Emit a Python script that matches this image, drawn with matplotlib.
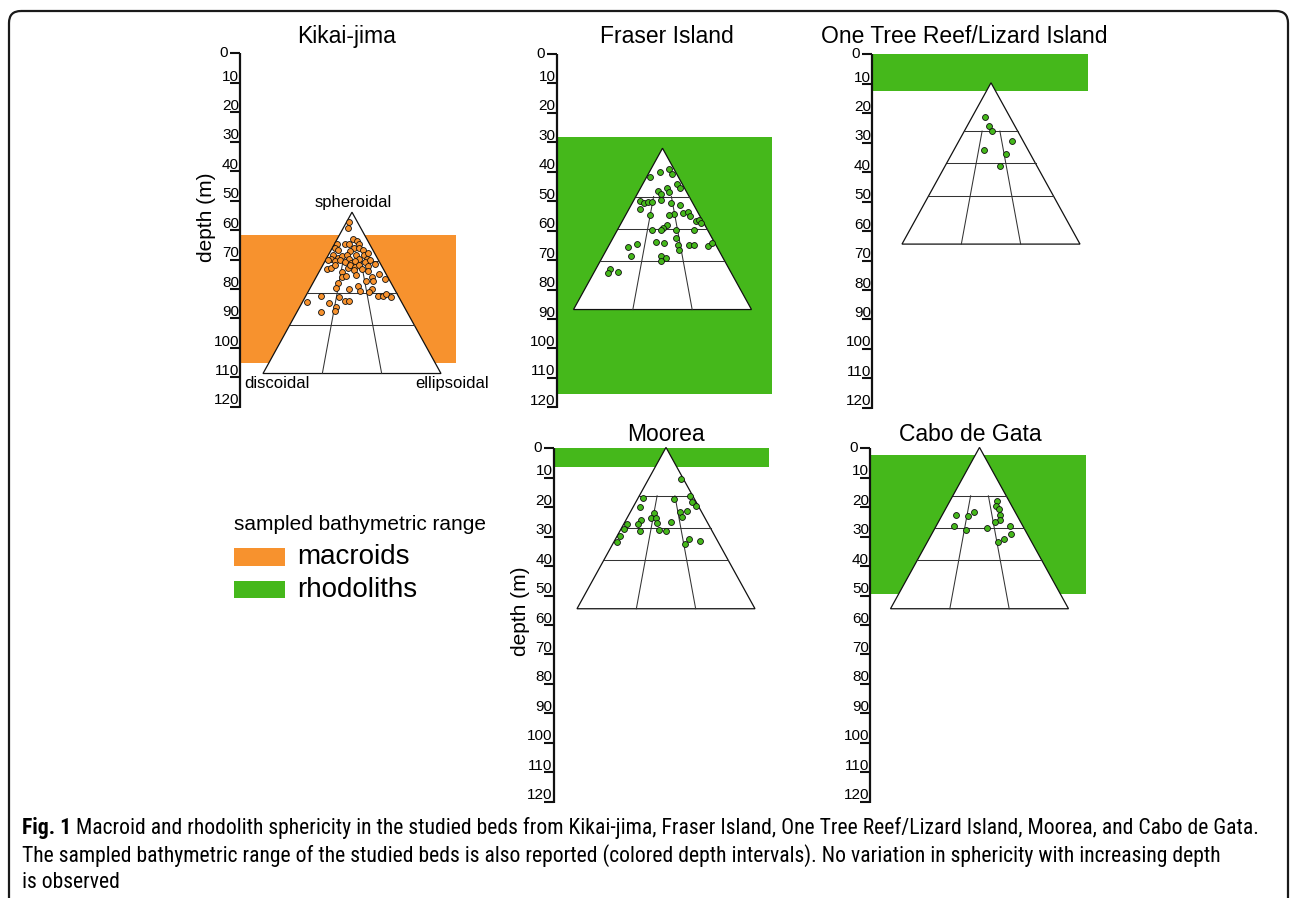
import matplotlib
matplotlib.use("Agg")
import matplotlib.pyplot as plt
from matplotlib.patches import Polygon, Rectangle, FancyBboxPatch
from matplotlib import font_manager

plt.rcParams['font.family'] = ['Liberation Sans', 'DejaVu Sans']

W, H = 1290, 898
PX_PER_M = 2.944  # vertical scale of every depth bar

#============
# Data
#============
depth_ticks = list(range(0, 121, 10))

sites = ["Kikai-jima", "Fraser Island", "One Tree Reef/Lizard Island", "Moorea", "Cabo de Gata"]
bed_type = ["macroids", "rhodoliths", "rhodoliths", "rhodoliths", "rhodoliths"]
range_top = [61.5, 28.3, 0.0, 0.0, 2.3]       # m
range_bottom = [105.2, 115.6, 12.4, 6.2, 49.6]  # m

# Sneed & Folk grid: horizontal lines (fraction of height from apex) and
# radial lines (fraction of base width)
sf_levels = [0.3, 0.5, 0.7]
sf_ratios = [1 / 3, 2 / 3]

# sample positions inside the triangle:
# across = offset from the apex in base widths, down = fraction of height from apex
kikai_across = [-0.015, -0.023, 0.004, 0.028, -0.038, -0.019, 0.037, -0.085, -0.094, -0.079,
                0.009, 0.037, 0.062, -0.010, -0.107, -0.119, -0.081, -0.056, -0.028, -0.019,
                0.023, 0.037, 0.066, 0.085, 0.090, -0.136, -0.094, -0.066, -0.038, -0.004,
                0.019, 0.075, 0.103, -0.141, -0.117, -0.098, -0.023, -0.010, 0.015, 0.037,
                0.056, 0.090, 0.128, -0.056, 0.009, 0.023, 0.090, 0.113, 0.150, 0.188,
                -0.056, -0.034, -0.079, 0.077, 0.116, 0.034, -0.089, -0.019, 0.047, 0.113,
                0.094, 0.147, 0.173, 0.192, 0.220, -0.072, -0.042, -0.019, -0.254, -0.132,
                -0.089, -0.094, -0.173, -0.173]
kikai_down = [0.063, 0.100, 0.167, 0.179, 0.198, 0.198, 0.198, 0.200, 0.225, 0.236,
              0.221, 0.221, 0.236, 0.242, 0.263, 0.288, 0.284, 0.271, 0.267, 0.288,
              0.267, 0.288, 0.263, 0.288, 0.250, 0.298, 0.304, 0.298, 0.309, 0.313,
              0.304, 0.309, 0.298, 0.354, 0.346, 0.325, 0.346, 0.329, 0.340, 0.329,
              0.354, 0.334, 0.321, 0.371, 0.361, 0.388, 0.367, 0.402, 0.381, 0.413,
              0.402, 0.396, 0.438, 0.429, 0.429, 0.459, 0.471, 0.475, 0.486, 0.475,
              0.496, 0.521, 0.517, 0.506, 0.528, 0.528, 0.548, 0.553, 0.554, 0.563,
              0.590, 0.611, 0.617, 0.517]

fraser_across = [-0.071, -0.015, 0.038, 0.053, -0.024, -0.011, 0.023, 0.036, -0.006, 0.084,
                 0.098, -0.124, -0.105, -0.084, -0.060, -0.128, -0.068, 0.047, 0.099, 0.064,
                 0.038, 0.116, 0.144, 0.154, 0.188, 0.203, 0.214, 0.026, 0.004, -0.008,
                 -0.060, 0.075, 0.176, 0.075, 0.088, 0.094, -0.038, 0.009, 0.150, 0.176,
                 0.257, 0.276, -0.146, -0.195, -0.178, -0.008, 0.019, -0.006, -0.293, -0.306,
                 -0.248]
fraser_down = [0.179, 0.150, 0.129, 0.160, 0.263, 0.283, 0.248, 0.273, 0.318, 0.220,
               0.246, 0.329, 0.339, 0.335, 0.335, 0.376, 0.415, 0.339, 0.349, 0.405,
               0.417, 0.400, 0.394, 0.421, 0.452, 0.446, 0.466, 0.478, 0.495, 0.507,
               0.507, 0.507, 0.507, 0.554, 0.602, 0.632, 0.581, 0.585, 0.602, 0.598,
               0.606, 0.585, 0.591, 0.610, 0.671, 0.671, 0.682, 0.700, 0.749, 0.774,
               0.766]

onetree_across = [-0.036, -0.009, 0.004, 0.116, -0.041, 0.082, 0.051]
onetree_down = [0.214, 0.268, 0.297, 0.361, 0.416, 0.443, 0.515]

moorea_across = [0.082, -0.131, 0.045, 0.137, 0.144, 0.167, -0.148, 0.079, 0.116, 0.088,
                 -0.067, -0.086, -0.058, -0.049, -0.139, -0.157, 0.028, -0.221, -0.236, -0.144,
                 -0.041, -0.002, -0.258, -0.277, 0.131, 0.191, 0.105]
moorea_down = [0.194, 0.313, 0.320, 0.299, 0.336, 0.361, 0.369, 0.398, 0.392, 0.433,
               0.404, 0.437, 0.439, 0.470, 0.447, 0.474, 0.460, 0.472, 0.505, 0.515,
               0.509, 0.518, 0.546, 0.588, 0.565, 0.581, 0.600]

cabo_across = [0.099, 0.092, 0.112, 0.116, 0.116, 0.086, -0.032, -0.062, -0.131, -0.146,
               -0.078, 0.041, 0.174, 0.176, 0.135, 0.103]
cabo_down = [0.334, 0.361, 0.381, 0.419, 0.452, 0.464, 0.400, 0.423, 0.421, 0.489,
             0.509, 0.501, 0.485, 0.536, 0.569, 0.584]

samples_across = [kikai_across, fraser_across, onetree_across, moorea_across, cabo_across]
samples_down = [kikai_down, fraser_down, onetree_down, moorea_down, cabo_down]

legend_title = "sampled bathymetric range"
legend_labels = ["macroids", "rhodoliths"]
colors = {"macroids": "#f7922e", "rhodoliths": "#45b81b"}

caption_bold = "Fig. 1"
caption_lines = [
    "Macroid and rhodolith sphericity in the studied beds from Kikai-jima, Fraser Island, One Tree Reef/Lizard Island, Moorea, and Cabo de Gata.",
    "The sampled bathymetric range of the studied beds is also reported (colored depth intervals). No variation in sphericity with increasing depth",
    "is observed",
]

#============
# Layout (pixels)
#============
axis_x = [240, 556.5, 872, 553.5, 870]
zero_y = [53.5, 54, 54.5, 448.3, 448.3]
title_x = [346.7, 666.7, 964.3, 666.2, 970.3]
title_y = [36.5, 36.5, 36.5, 434.3, 434.3]
tri_cx = [112, 106, 119, 112.5, 109.5]        # px right of the depth bar
tri_apex = [53.9, 32.0, 9.6, -0.3, -0.3]      # m
TRI_W = 178          # px
TRI_H = 54.8         # m
BAND_W = 215         # px
show_ylabel = [True, False, False, True, False]

fig = plt.figure(figsize=(W / 100, H / 100), dpi=100)

# full-figure overlay in pixel units for frame, legend and caption
ov = fig.add_axes([0, 0, 1, 1])
ov.set_xlim(0, W)
ov.set_ylim(H, 0)
ov.axis('off')
ov.add_patch(FancyBboxPatch((9, 11), 1279, 960, boxstyle="round,pad=0,rounding_size=12",
                            fc='none', ec='#1a1a1a', lw=1.6))


def panel_axes(ax_x, y0):
    x_lo, x_hi = -55, 262
    d_lo, d_hi = -12, 126
    top_px = y0 + d_lo * PX_PER_M
    bot_px = y0 + d_hi * PX_PER_M
    ax = fig.add_axes([(ax_x + x_lo) / W, 1 - bot_px / H, (x_hi - x_lo) / W, (bot_px - top_px) / H])
    ax.set_xlim(x_lo, x_hi)
    ax.set_ylim(d_hi, d_lo)
    ax.axis('off')
    ax.patch.set_alpha(0)
    return ax


for i, site in enumerate(sites):
    ax = panel_axes(axis_x[i], zero_y[i])
    col = colors[bed_type[i]]

    # sampled bathymetric range
    ax.add_patch(Rectangle((0.5, range_top[i]), BAND_W, range_bottom[i] - range_top[i],
                           fc=col, ec='none', zorder=1))

    # depth bar
    ax.plot([0, 0], [0, 120.4], color='#111', lw=1.6, solid_capstyle='butt', zorder=6)
    for d in depth_ticks:
        ax.plot([-10, 0], [d, d], color='#111', lw=1.5, solid_capstyle='butt', zorder=6)
        if d == 0:
            ax.text(-12, d, str(d), ha='right', va='center', fontsize=11, zorder=6)
        else:
            ax.text(-1, d - 2.4 / PX_PER_M, str(d), ha='right', va='baseline', fontsize=11,
                    zorder=6)

    # Sneed & Folk triangle
    cx, a = tri_cx[i], tri_apex[i]
    half = TRI_W / 2
    ax.add_patch(Polygon([(cx, a), (cx - half, a + TRI_H), (cx + half, a + TRI_H)],
                         closed=True, fc='white', ec='#111', lw=0.9, zorder=2))
    for v in sf_levels:
        ax.plot([cx - half * v, cx + half * v], [a + TRI_H * v, a + TRI_H * v],
                color='#333', lw=0.75, zorder=3)
    for f in sf_ratios:
        v0 = sf_levels[0]
        ax.plot([cx + (f - 0.5) * TRI_W * v0, cx + (f - 0.5) * TRI_W],
                [a + TRI_H * v0, a + TRI_H], color='#333', lw=0.75, zorder=3)

    xs = [cx + u * TRI_W for u in samples_across[i]]
    ys = [a + v * TRI_H for v in samples_down[i]]
    ax.scatter(xs, ys, s=18, c=col, edgecolors='#111', linewidths=0.6, zorder=5)

    if i == 0:
        ax.text(cx + 1, a - 3.3, "spheroidal", ha='center', va='center', fontsize=12)
        ax.text(cx - half + 14, a + TRI_H + 3.5, "discoidal", ha='center', va='center', fontsize=12)
        ax.text(cx + half + 11, a + TRI_H + 3.5, "ellipsoidal", ha='center', va='center', fontsize=12)

    if show_ylabel[i]:
        ax.text(-33, 55.5, "depth (m)", rotation=90, ha='center', va='center', fontsize=15)

    ov.text(title_x[i], title_y[i], site, ha='center', va='center', fontsize=16.5)

# legend
ov.text(234, 525, legend_title, ha='left', va='center', fontsize=15)
for k, lab in enumerate(legend_labels):
    yc = 557 + k * 32.7
    ov.add_patch(Rectangle((234.3, yc - 8.7), 50.7, 17.4, fc=colors[lab], ec='none'))
    ov.text(297, yc, lab, ha='left', va='center', fontsize=20)

# caption: use a narrow face if one is installed, then fit line 1 to its width
names = {f.name for f in font_manager.fontManager.ttflist}
cap_kw = dict(family=['DejaVu Sans'], fontstretch='condensed')
for nm in ['Liberation Sans Narrow', 'Arial Narrow', 'Roboto Condensed', 'Open Sans Condensed']:
    if nm in names:
        cap_kw = dict(family=[nm, 'DejaVu Sans'])
        break

cap_y = [828, 856, 882]
CAP_X0, CAP_X1 = 22, 1263
rend = fig.canvas.get_renderer()
trial = 14.0
tb = ov.text(CAP_X0, cap_y[0], caption_bold, ha='left', va='center', fontsize=trial,
             fontweight='bold', **cap_kw)
t1 = ov.text(CAP_X0, cap_y[0], caption_lines[0], ha='left', va='center', fontsize=trial, **cap_kw)
wtot = tb.get_window_extent(renderer=rend).width + t1.get_window_extent(renderer=rend).width + 5
cap_size = min(17.0, trial * (CAP_X1 - CAP_X0) / wtot)
tb.set_fontsize(cap_size)
t1.set_fontsize(cap_size)
bw = tb.get_window_extent(renderer=rend).width
t1.set_x(CAP_X0 + bw + 5)
for k in (1, 2):
    ov.text(CAP_X0, cap_y[k], caption_lines[k], ha='left', va='center', fontsize=cap_size, **cap_kw)

fig.savefig("out.png", dpi=100)
